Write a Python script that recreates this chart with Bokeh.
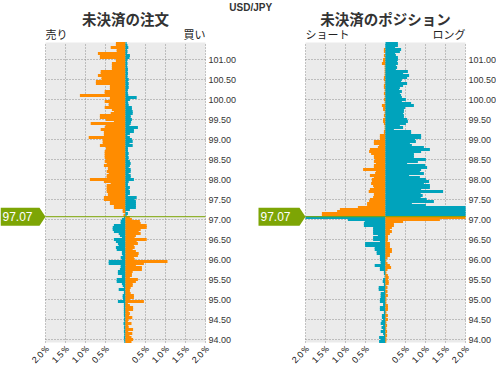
import math
import numpy as np
from bokeh.plotting import figure
from bokeh.models import Range1d, ColumnDataSource
from bokeh.core.properties import value
from bokeh.embed import file_html
from bokeh.resources import INLINE

# ---------------- data ----------------
pair = "USD/JPY"
top_level = 101.40          # highest price bucket
step = 0.05                 # bucket size
current_price = 97.07
y_bottom = 93.925           # bottom of the price axis

# open orders: left = sell side, right = buy side (percent), rows = buckets from 101.40 down
order_left = [
    0.24, 0.24, 0.37, 0.22, 0.22, 0.69, 0.64, 0.64, 0.24, 0.24,
    0.34, 0.34, 0.34, 0.34, 0.62, 0.62, 0.69, 0.60, 0.60, 0.74,
    0.74, 0.39, 0.39, 0.39, 0.52, 0.52, 1.14, 0.39, 0.39, 0.52,
    0.42, 0.42, 0.52, 0.34, 0.29, 0.37, 0.64, 0.64, 0.49, 0.29,
    0.87, 0.49, 0.52, 0.62, 0.54, 0.54, 0.54, 0.92, 0.57, 0.57,
    0.57, 0.64, 0.49, 0.49, 0.52, 0.52, 0.52, 0.52, 0.49, 0.52,
    0.47, 0.54, 0.44, 0.44, 0.47, 0.42, 0.47, 0.47, 0.89, 0.54,
    0.37, 0.47, 0.47, 0.47, 0.47, 0.44, 0.44, 0.54, 0.54, 0.39,
    0.39, 0.29, 0.29, 0.07, 0.07, 0.02, 0.05, 0.04, 0.09, 0.12,
    0.12, 0.29, 0.32, 0.32, 0.29, 0.17, 0.14, 0.09, 0.29, 0.24,
    0.19, 0.17, 0.24, 0.22, 0.09, 0.09, 0.07, 0.12, 0.09, 0.42,
    0.42, 0.12, 0.12, 0.14, 0.19, 0.19, 0.09, 0.09, 0.22, 0.22,
    0.09, 0.07, 0.04, 0.17, 0.04, 0.04, 0.07, 0.07, 0.06, 0.19,
    0.04, 0.04, 0.04, 0.04, 0.04, 0.04, 0.04, 0.03, 0.04, 0.03,
    0.05, 0.03, 0.04, 0.03, 0.04, 0.03, 0.03, 0.04, 0.03, 0.03,
]
order_right = [
    0.03, 0.05, 0.07, 0.04, 0.05, 0.04, 0.11, 0.10, 0.05, 0.04,
    0.05, 0.04, 0.05, 0.06, 0.05, 0.06, 0.05, 0.05, 0.08, 0.06,
    0.08, 0.07, 0.08, 0.06, 0.05, 0.06, 0.07, 0.28, 0.11, 0.06,
    0.07, 0.08, 0.16, 0.16, 0.18, 0.18, 0.13, 0.13, 0.16, 0.14,
    0.13, 0.10, 0.31, 0.21, 0.21, 0.11, 0.05, 0.11, 0.16, 0.18,
    0.10, 0.18, 0.06, 0.06, 0.06, 0.08, 0.06, 0.08, 0.07, 0.11,
    0.13, 0.11, 0.08, 0.13, 0.13, 0.08, 0.13, 0.13, 0.21, 0.08,
    0.06, 0.06, 0.11, 0.08, 0.11, 0.11, 0.06, 0.28, 0.23, 0.26,
    0.26, 0.26, 0.26, 0.11, 0.01, 0.06, 0.03, 0.11, 0.16, 0.36,
    0.38, 0.53, 0.53, 0.38, 0.33, 0.38, 0.26, 0.23, 0.53, 0.28,
    0.31, 0.21, 0.23, 0.18, 0.26, 0.33, 0.31, 0.21, 0.23, 1.05,
    0.46, 0.26, 0.41, 0.41, 0.18, 0.16, 0.16, 0.11, 0.31, 0.26,
    0.18, 0.18, 0.13, 0.11, 0.11, 0.13, 0.21, 0.21, 0.11, 0.46,
    0.06, 0.11, 0.19, 0.19, 0.08, 0.11, 0.09, 0.17, 0.08, 0.06,
    0.15, 0.07, 0.08, 0.19, 0.07, 0.17, 0.10, 0.15, 0.19, 0.15,
]
# open positions: left = short, right = long (percent)
pos_left = [
    0.00, 0.00, 0.00, 0.04, 0.04, 0.00, 0.04, 0.02, 0.06, 0.06,
    0.09, 0.02, 0.02, 0.02, 0.02, 0.02, 0.02, 0.04, 0.04, 0.02,
    0.02, 0.04, 0.04, 0.02, 0.02, 0.04, 0.02, 0.02, 0.04, 0.02,
    0.02, 0.09, 0.06, 0.06, 0.02, 0.02, 0.04, 0.02, 0.06, 0.06,
    0.04, 0.02, 0.02, 0.02, 0.04, 0.04, 0.14, 0.14, 0.14, 0.29,
    0.29, 0.16, 0.19, 0.39, 0.41, 0.36, 0.29, 0.29, 0.26, 0.29,
    0.24, 0.29, 0.29, 0.56, 0.24, 0.26, 0.39, 0.29, 0.34, 0.34,
    0.36, 0.31, 0.29, 0.39, 0.42, 0.29, 0.29, 0.31, 0.39, 0.41,
    0.46, 0.46, 0.69, 1.14, 1.21, 1.59, 1.59, 2.60, 0.94, 0.52,
    0.54, 0.54, 0.31, 0.31, 0.31, 0.31, 0.19, 0.31, 0.31, 0.14,
    0.51, 0.51, 0.27, 0.27, 0.22, 0.22, 0.14, 0.14, 0.14, 0.12,
    0.12, 0.27, 0.14, 0.14, 0.04, 0.04, 0.02, 0.02, 0.06, 0.07,
    0.04, 0.04, 0.17, 0.17, 0.04, 0.12, 0.12, 0.12, 0.14, 0.14,
    0.06, 0.06, 0.14, 0.14, 0.04, 0.04, 0.09, 0.09, 0.06, 0.10,
    0.12, 0.06, 0.10, 0.06, 0.12, 0.06, 0.04, 0.16, 0.12, 0.16,
]
pos_right = [
    0.31, 0.31, 0.24, 0.39, 0.36, 0.24, 0.26, 0.31, 0.31, 0.29,
    0.31, 0.26, 0.29, 0.26, 0.56, 0.44, 0.59, 0.54, 0.41, 0.39,
    0.54, 0.44, 0.36, 0.34, 0.41, 0.36, 0.39, 0.41, 0.51, 0.41,
    0.64, 0.71, 0.49, 0.46, 0.46, 0.44, 0.46, 0.46, 0.54, 0.56,
    0.51, 0.36, 0.44, 0.21, 0.64, 0.64, 0.89, 0.89, 0.74, 0.76,
    0.61, 0.66, 0.96, 1.11, 0.89, 0.71, 0.71, 0.71, 1.01, 0.81,
    0.54, 0.99, 1.04, 0.89, 0.86, 0.96, 0.59, 0.86, 1.01, 1.09,
    0.96, 1.11, 1.11, 0.89, 1.44, 0.88, 0.93, 0.88, 1.03, 1.21,
    0.66, 1.01, 2.20, 2.30, 2.50, 2.60, 2.80, 2.40, 1.36, 0.44,
    0.21, 0.21, 0.16, 0.11, 0.16, 0.11, 0.06, 0.06, 0.06, 0.05,
    0.11, 0.11, 0.11, 0.16, 0.16, 0.11, 0.11, 0.05, 0.02, 0.02,
    0.05, 0.11, 0.14, 0.05, 0.02, 0.02, 0.06, 0.08, 0.06, 0.08,
    0.08, 0.02, 0.05, 0.02, 0.05, 0.02, 0.06, 0.02, 0.02, 0.02,
    0.02, 0.06, 0.06, 0.06, 0.02, 0.02, 0.06, 0.02, 0.06, 0.02,
    0.02, 0.04, 0.02, 0.02, 0.04, 0.02, 0.04, 0.02, 0.02, 0.02,
]

pct_ticks = [-2.0, -1.5, -1.0, -0.5, 0.5, 1.0, 1.5, 2.0]
pct_labels = ["2.0％", "1.5％", "1.0％", "0.5％", "0.5％", "1.0％", "1.5％", "2.0％"]
grid_pct = [-2.0, -1.5, -1.0, -0.5, 0.0, 0.5, 1.0, 1.5, 2.0]
price_ticks = [94.0, 94.5, 95.0, 95.5, 96.0, 96.5, 97.0, 97.5, 98.0, 98.5, 99.0, 99.5, 100.0, 100.5, 101.0]
titles = ["未決済の注文", "未決済のポジション"]
side_left = ["売り", "ショート"]
side_right = ["買い", "ロング"]

# ---------------- styling / layout ----------------
ORANGE = "#ff8c00"
TEAL = "#00a3bc"
GREEN = "#7da505"
BG = "#ebebeb"
GRID = "#8e8e8e"
TXT = "#333333"

W, H = 496, 365
PX = 40.0                 # px per percent (x) and per yen (y)
zero_px = 125             # left panel zero line from canvas left
D = 6.5                   # right panel centre (in percent units)
header_px = 42            # space above the panels

n = len(order_left)
levels = np.round(top_level - step * np.arange(n), 2)
above = levels > current_price
gray_top = top_level + step / 2

x_start = -zero_px / PX
x_end = x_start + W / PX
y_top = gray_top + header_px / PX
y_start = y_top - H / PX

p = figure(width=W, height=H, x_range=Range1d(x_start, x_end), y_range=Range1d(y_start, y_top),
           output_backend="svg", toolbar_location=None, x_axis_location=None, y_axis_location=None,
           min_border=0, background_fill_color="white", border_fill_color="white",
           outline_line_color=None)
p.xgrid.visible = False
p.ygrid.visible = False

centers = [0.0, D]

# panel backgrounds
p.quad(left=[c - 2 for c in centers], right=[c + 2 for c in centers],
       bottom=[y_bottom] * 2, top=[gray_top] * 2, fill_color=BG, line_color=None)

# dotted grid
gx0, gy0, gx1, gy1 = [], [], [], []
for c in centers:
    for t in grid_pct:
        gx0.append(c + t); gx1.append(c + t); gy0.append(y_bottom); gy1.append(gray_top)
    for t in price_ticks:
        gx0.append(c - 2); gx1.append(c + 2); gy0.append(t); gy1.append(t)
p.segment(x0=gx0, y0=gy0, x1=gx1, y1=gy1, line_color=GRID, line_width=1, line_dash="1 2")

# bars (drawn with half a pixel of overlap so no seams show between buckets)
def add_bars(c, lvals, rvals):
    lv = np.minimum(np.array(lvals), 2.0)
    rv = np.minimum(np.array(rvals), 2.0)
    lc = np.where(above, ORANGE, TEAL)
    rc = np.where(above, TEAL, ORANGE)
    src = ColumnDataSource(dict(
        y=np.concatenate([levels, levels]),
        left=np.concatenate([c - lv, np.full(n, c)]),
        right=np.concatenate([np.full(n, c), c + rv]),
        color=np.concatenate([lc, rc]),
    ))
    p.hbar(y="y", left="left", right="right", height=step + 1.0 / PX, fill_color="color",
           line_color=None, source=src)

add_bars(0.0, order_left, order_right)
add_bars(D, pos_left, pos_right)

# current price line
p.segment(x0=[c - 2 for c in centers], x1=[c + 2 for c in centers],
          y0=[current_price] * 2, y1=[current_price] * 2, line_color=GREEN, line_width=1)

# current price markers
half = 9 / PX
tip = 6 / PX
mxs, mys, mtx = [], [], []
for c, left_edge in zip(centers, [x_start, D - 2 - 47 / PX]):
    g = c - 2
    mxs.append([left_edge, g - tip, g, g - tip, left_edge])
    mys.append([current_price + half, current_price + half, current_price,
                current_price - half, current_price - half])
    mtx.append(left_edge)
p.patches(xs=mxs, ys=mys, fill_color=GREEN, line_color=None)
p.text(x=mtx, y=[current_price] * 2, text=[f"{current_price:.2f}"] * 2, x_offset=2,
       text_color="white", text_font=value("Liberation Sans"), text_font_size=value("12px"),
       text_baseline="middle", text_align="left")

# price labels (right of each panel)
ly = [t for c in centers for t in price_ticks]
lx = [c + 2 for c in centers for t in price_ticks]
p.text(x=lx, y=ly, text=[f"{t:.2f}" for c in centers for t in price_ticks],
       x_offset=3, text_color=TXT, text_font=value("Liberation Sans"),
       text_font_size=value("9px"), text_baseline="middle", text_align="left")

# percent labels (rotated, below each panel)
px_ = [c + t for c in centers for t in pct_ticks]
p.text(x=px_, y=[y_bottom] * len(px_), text=[lab for c in centers for lab in pct_labels],
       angle=math.pi / 4, x_offset=3, y_offset=4, text_color="#111111",
       text_font=value("Liberation Sans"), text_font_size=value("9px"),
       text_align="right", text_baseline="middle")

# headers
p.text(x=[(centers[0] + centers[1]) / 2 - 0.12], y=[y_top], text=[pair], y_offset=1,
       text_color=TXT, text_font=value("Liberation Sans"), text_font_size=value("10px"),
       text_font_style="bold", text_align="center", text_baseline="top")
p.text(x=centers, y=[y_top] * 2, text=titles, y_offset=7, text_color=TXT,
       text_font=value("Noto Sans CJK JP"), text_font_size=value("14.5px"),
       text_font_style="bold", text_align="center", text_baseline="top")
p.text(x=[c - 2 for c in centers], y=[gray_top] * 2, text=side_left, y_offset=-1,
       text_color="#222222", text_font=value("Noto Sans CJK JP"), text_font_size=value("11px"),
       text_align="left", text_baseline="bottom")
p.text(x=[c + 2 for c in centers], y=[gray_top] * 2, text=side_right, y_offset=-1,
       text_color="#222222", text_font=value("Noto Sans CJK JP"), text_font_size=value("11px"),
       text_align="right", text_baseline="bottom")

open("out.html", "w").write(file_html(p, INLINE))
